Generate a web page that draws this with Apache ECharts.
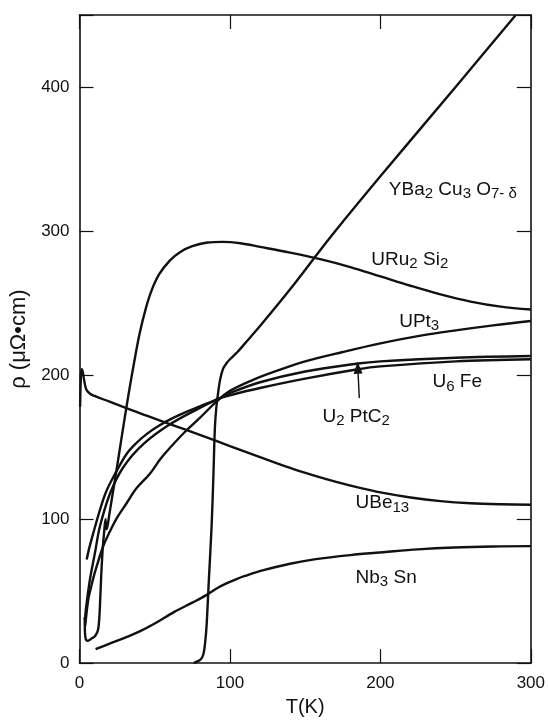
<!DOCTYPE html>
<html>
<head>
<meta charset="utf-8">
<script src="https://cdn.jsdelivr.net/npm/echarts@6/dist/echarts.min.js"></script>
<style>
html,body{margin:0;padding:0;background:#fff;}
#c{width:548px;height:722px;}
</style>
</head>
<body>
<div id="c"></div>
<script>
// ---- data (T in K, rho in micro-ohm cm) ----
const ybcoT = [76, 78, 80.5, 82.3, 83.5, 84.5, 86, 87.8, 89, 90, 91, 92.2, 93.5, 95.5, 98, 100, 105, 110, 120, 140, 167, 200, 250, 290];
const ybcoR = [0, 1, 2.5, 6, 14, 26.5, 58, 95, 130, 163.5, 178, 188, 197, 204.6, 208.5, 211, 216, 222, 234, 259.5, 296, 338, 400, 450];

const uru2si2T = [3.5, 3.6, 4.2, 5.5, 8, 10.5, 12.3, 13.2, 13.8, 14.4, 15, 15.6, 16.3, 17.3, 17.8, 18.6, 19.8, 21.5, 24, 28.5, 32.5, 36, 40, 44, 48, 53, 60, 67, 75, 85, 95, 107, 120, 140, 160, 180, 200, 220, 240, 260, 280, 300];
const uru2si2R = [32, 22, 16.5, 15.5, 17, 19, 23, 32, 45, 60, 72, 82, 90, 100, 93, 95, 103, 114, 130, 160, 186, 207, 229, 246, 259, 270, 279.5, 285.5, 289.5, 292, 292.5, 291.5, 289, 285, 280.5, 275, 268.5, 262, 256, 251, 247.5, 245.5];

const upt3T = [3.8, 5.9, 8, 10.5, 15.8, 20, 25, 31.3, 38, 46.8, 54, 62.3, 71, 80, 91.2, 100, 115, 130, 150, 175, 200, 225, 250, 275, 300];
const upt3R = [26, 44.7, 54, 64, 81.3, 91, 101, 111, 121.5, 131.5, 142, 152, 161.5, 170.3, 181.7, 189, 196.5, 202.5, 209.5, 216, 222, 227, 231, 234.5, 237.5];

const u6feT = [4.8, 6.5, 9.2, 13.6, 17.5, 22.5, 31.3, 38, 44.6, 53, 62.3, 71, 80, 93.4, 100, 120, 150, 185, 200, 250, 300];
const u6feR = [72, 80, 90.4, 106.4, 118.5, 129.2, 145.2, 153, 159, 165, 170.3, 174.5, 178.3, 184, 187.5, 195, 202.5, 208, 209.5, 212, 213.2];

const u2ptc2T = [3.6, 4.3, 7, 10.3, 13.6, 20.3, 29.1, 42.4, 60.1, 80, 93.4, 100, 120, 150, 185, 200, 250, 300];
const u2ptc2R = [30, 37.9, 58.4, 76.7, 95, 117.8, 136, 152, 165.8, 177.2, 184, 186, 191, 197.5, 204, 206, 209.5, 211];

const ube13T = [0.4, 0.8, 1.3, 2.0, 3.0, 4.5, 7, 10, 20, 40, 60, 80, 100, 120, 140, 155, 170, 185, 200, 220, 240, 260, 280, 300];
const ube13R = [178, 195, 204, 203, 197, 190, 187, 185.5, 181.5, 173.5, 166, 158.5, 150.7, 143, 135.5, 130.5, 126, 122, 118.5, 115, 112.5, 111, 110.3, 110];

const nb3snT = [10.7, 20, 30, 40, 50, 63, 75, 84, 92, 98, 104, 110, 121, 140, 156, 180, 202, 225, 249, 275, 300];
const nb3snR = [9.7, 13.5, 17.5, 22, 27.5, 35.6, 42, 47, 52.3, 55.5, 58.2, 60.5, 64.2, 69, 72, 75, 77, 79, 80.3, 81, 81.2];

const xTicks = [0, 100, 200, 300];
const yTicks = [0, 100, 200, 300, 400];

// label texts (rich-text markup) and their anchor (left edge, vertical centre) in data units
const labelTexts = {
  ybco: '{m|YBa}{s|2}{m| Cu}{s|3}{m| O}{s|7- δ}',
  uru2si2: '{m|URu}{s|2}{m| Si}{s|2}',
  upt3: '{m|UPt}{s|3}',
  u6fe: '{m|U}{s|6}{m| Fe}',
  u2ptc2: '{m|U}{s|2}{m| PtC}{s|2}',
  ube13: '{m|UBe}{s|13}',
  nb3sn: '{m|Nb}{s|3}{m| Sn}'
};
const labelAnchors = {
  ybco: [205.6, 329],
  uru2si2: [194, 280],
  upt3: [212.5, 237],
  u6fe: [234.6, 195],
  u2ptc2: [161.5, 171],
  ube13: [183.5, 111],
  nb3sn: [183.5, 59.5]
};
const arrowFrom = [186, 184];
const arrowTo = [185, 205];

// ---- build ----
function zip(a, b) { return a.map((v, i) => [v, b[i]]); }
const FONT = '"Liberation Sans", Arial, Helvetica, sans-serif';
const INK = '#111';
const rich = {
  m: { fontSize: 19, fontFamily: FONT, color: INK, lineHeight: 24 },
  s: { fontSize: 15, fontFamily: FONT, color: INK, lineHeight: 10, verticalAlign: 'bottom' }
};

function mk(key, t, r, extra) {
  const s = {
    type: 'line',
    name: key,
    data: zip(t, r),
    xAxisIndex: 0, yAxisIndex: 0,
    showSymbol: false,
    smooth: 0.35,
    lineStyle: { color: INK, width: 2.4 },
    silent: true,
    animation: false,
    markPoint: {
      symbol: 'circle', symbolSize: 0, silent: true, animation: false,
      label: {
        show: true, position: 'right', distance: 0,
        formatter: labelTexts[key], rich: rich
      },
      data: [{ coord: labelAnchors[key] }]
    }
  };
  return Object.assign(s, extra || {});
}

const series = [
  mk('ybco', ybcoT, ybcoR),
  mk('uru2si2', uru2si2T, uru2si2R),
  mk('upt3', upt3T, upt3R),
  mk('u6fe', u6feT, u6feR),
  mk('u2ptc2', u2ptc2T, u2ptc2R, {
    markLine: {
      silent: true, animation: false,
      symbol: ['none', 'triangle'], symbolSize: [9, 12],
      lineStyle: { color: INK, width: 1.4, type: 'solid' },
      label: { show: false },
      data: [[{ coord: arrowFrom }, { coord: arrowTo }]]
    }
  }),
  mk('ube13', ube13T, ube13R),
  mk('nb3sn', nb3snT, nb3snR)
];

const axisLine = { show: true, onZero: false, lineStyle: { color: INK, width: 1.6 } };
const tick = { show: true, inside: true, length: 14, lineStyle: { color: INK, width: 1.2 } };
const tickLabel = { fontSize: 17, fontFamily: FONT, color: INK };

const option = {
  backgroundColor: '#fff',
  animation: false,
  grid: { left: 79.5, right: 17, top: 15, bottom: 50, containLabel: false },
  xAxis: [
    {
      type: 'value', min: 0, max: 300, interval: 100, position: 'bottom',
      axisLine: axisLine, axisTick: tick, splitLine: { show: false },
      axisLabel: Object.assign({ margin: 12, formatter: v => xTicks.includes(v) ? String(v) : '' }, tickLabel),
      name: 'T(K)', nameLocation: 'middle', nameGap: 26,
      nameTextStyle: { fontSize: 20, fontFamily: FONT, color: INK }
    },
    {
      type: 'value', min: 0, max: 300, interval: 100, position: 'top',
      axisLine: axisLine, axisTick: tick, splitLine: { show: false },
      axisLabel: { show: false }
    }
  ],
  yAxis: [
    {
      type: 'value', min: 0, max: 450, interval: 100, position: 'left',
      axisLine: axisLine, axisTick: tick, splitLine: { show: false },
      axisLabel: Object.assign({ margin: 10, formatter: v => yTicks.includes(v) ? String(v) : '' }, tickLabel),
      name: 'ρ (μΩ•cm)', nameLocation: 'middle', nameGap: 47, nameRotate: 90,
      nameTextStyle: { fontSize: 22, fontFamily: FONT, color: INK }
    },
    {
      type: 'value', min: 0, max: 450, interval: 100, position: 'right',
      axisLine: axisLine, axisTick: tick, splitLine: { show: false },
      axisLabel: { show: false }
    }
  ],
  series: series
};

const chart = echarts.init(document.getElementById('c'), null, { renderer: 'canvas' });
chart.setOption(option);
</script>
</body>
</html>
